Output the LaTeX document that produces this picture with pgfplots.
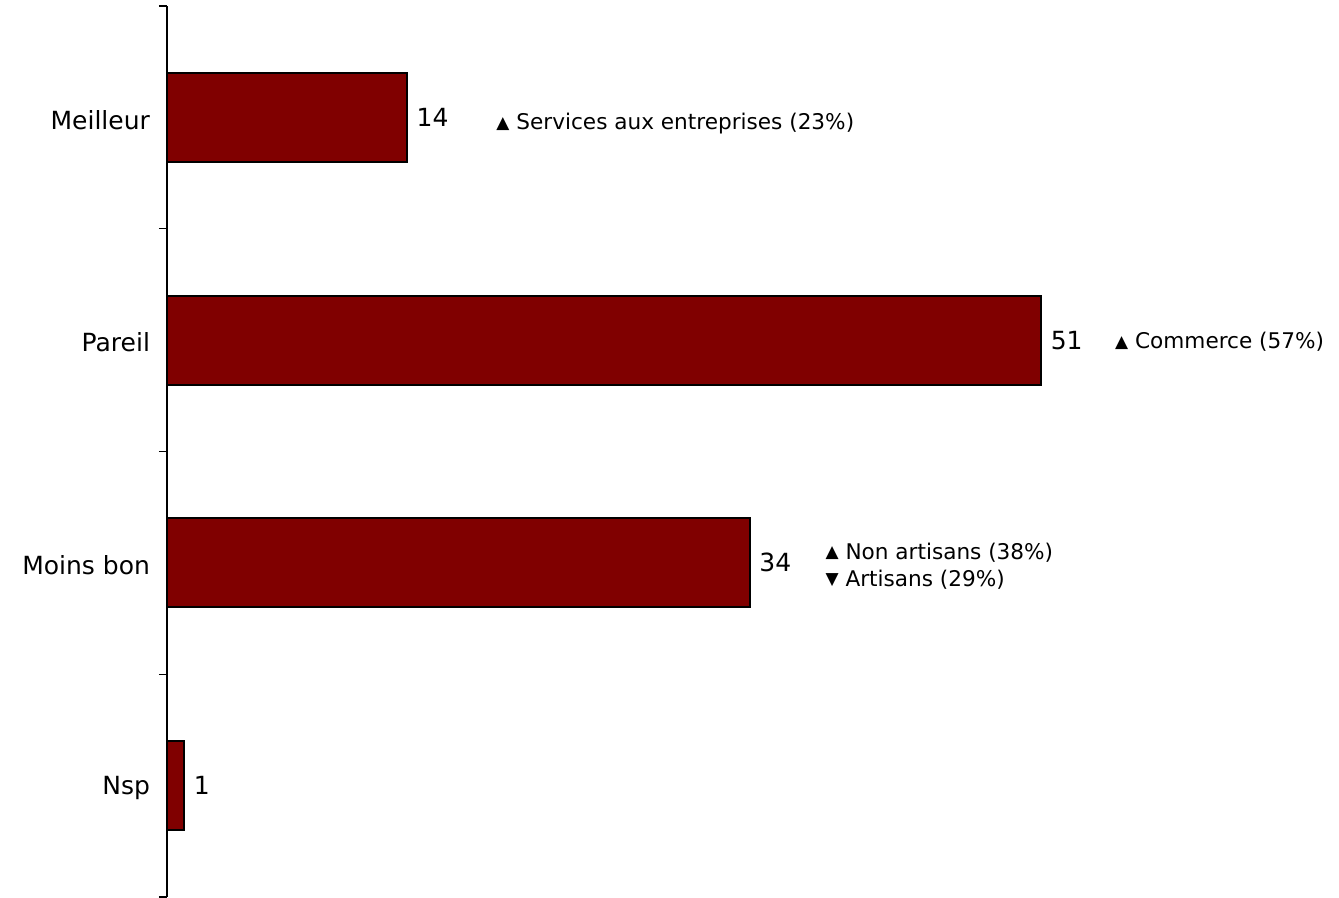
\documentclass[border=0pt]{standalone}
\usepackage{fontspec}
\setmainfont{DejaVu Sans}
\usepackage{pgfplots}
\pgfplotsset{compat=1.18}
\definecolor{barred}{HTML}{800000}
\newcommand{\lab}{\fontsize{12.5}{15}\selectfont}
\newcommand{\ann}{\fontsize{10.8}{13.5}\selectfont}
\newcommand{\up}{\raisebox{0.6pt}{\fontsize{8.5}{9}\selectfont ▲}}
\newcommand{\dn}{\raisebox{0.6pt}{\fontsize{8.5}{9}\selectfont ▼}}
\begin{document}
\begin{tikzpicture}
\useasboundingbox (-83.5pt,-0.5pt) rectangle (586pt,448.5pt);
\begin{axis}[
 at={(0,0)}, anchor=south west,
 scale only axis, width=582.75pt, height=445.5pt,
 xbar, bar shift=0pt, bar width=0.4,
 xmin=0, xmax=68, ymin=-0.5, ymax=3.5, y dir=reverse,
 axis x line=none, axis y line=left, axis line style={-, line width=0.6pt},
 ytick={0,1,2,3}, yticklabels={Meilleur,Pareil,Moins bon,Nsp},
 yticklabel style={font=\lab, xshift=-5pt, yshift=-1.2pt},
 major tick length=0pt,
 extra y ticks={-0.5,0.5,1.5,2.5,3.5}, extra y tick labels={},
 extra y tick style={major tick length=4pt, tick align=outside, tick style={black, line width=0.6pt}},
 nodes near coords, nodes near coords style={font=\lab, anchor=west, xshift=1pt, black},
 /pgf/number format/assume math mode=true,
 clip=false,
]
\addplot[fill=barred, draw=black, line width=1pt] coordinates {(14,0) (51,1) (34,2) (1,3)};
\node[anchor=west, font=\ann, inner sep=0pt, yshift=-3pt] at (axis cs:19.2,0) {\up\ Services aux entreprises (23\%)};
\node[anchor=west, font=\ann, inner sep=0pt, yshift=-1pt] at (axis cs:55.3,1) {\up\ Commerce (57\%)};
\node[anchor=west, font=\ann, inner sep=0pt, align=left, yshift=-1.5pt] at (axis cs:38.4,2) {\up\ Non artisans (38\%)\\\dn\ Artisans (29\%)};
\end{axis}
\end{tikzpicture}
\end{document}
